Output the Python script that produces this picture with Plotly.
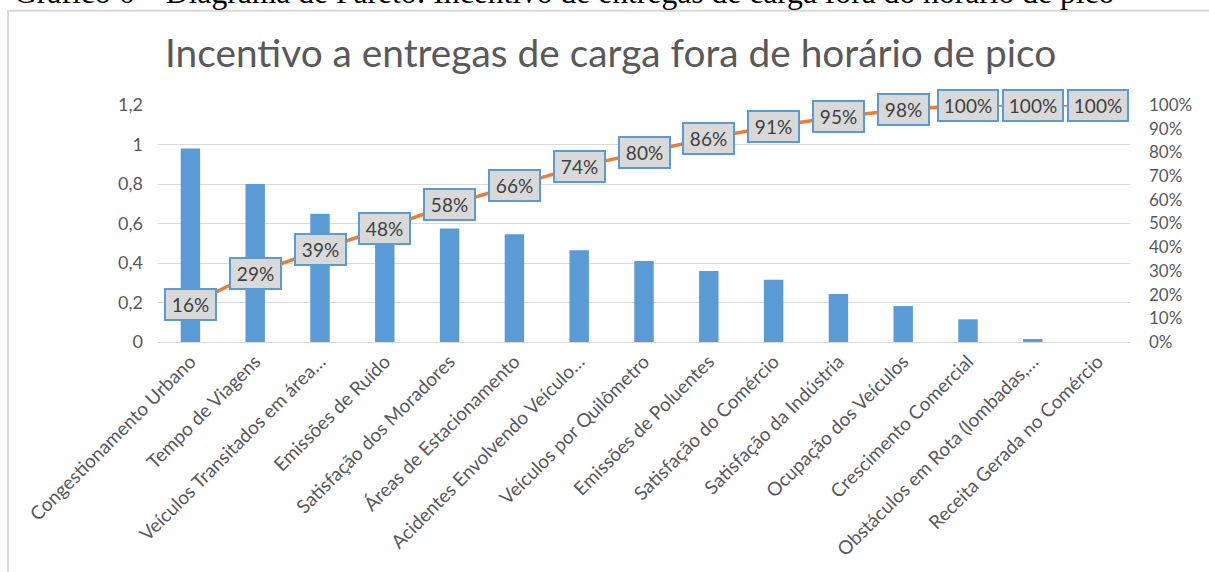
import plotly.graph_objects as go

categories = [
    "Congestionamento Urbano",
    "Tempo de Viagens",
    "Veículos Transitados em área…",
    "Emissões de Ruído",
    "Satisfação dos Moradores",
    "Áreas de Estacionamento",
    "Acidentes Envolvendo Veículo…",
    "Veículos por Quilômetro",
    "Emissões de Poluentes",
    "Satisfação do Comércio",
    "Satisfação da Indústria",
    "Ocupação dos Veículos",
    "Crescimento Comercial",
    "Obstáculos em Rota (lombadas,…",
    "Receita Gerada no Comércio",
]
bar_values = [0.98, 0.80, 0.65, 0.56, 0.575, 0.545, 0.465, 0.41, 0.36, 0.315, 0.243, 0.182, 0.115, 0.015, 0.0]
cum_pct = [16, 29, 39, 48, 58, 66, 74, 80, 86, 91, 95, 98, 100, 100, 100]

left_ticks = [0, 0.2, 0.4, 0.6, 0.8, 1.0, 1.2]
right_ticks = [i / 10 for i in range(11)]

title_text = "Incentivo a entregas de carga fora de horário de pico"
caption_text = "Gráfico 6 – Diagrama de Pareto: Incentivo de entregas de carga fora do horário de pico"

FONT = "Lato"
GRAY = "#595959"
BLUE = "#5B9BD5"
ORANGE = "#ED7D31"

W, H = 1209, 572
L, R, T, B = 158, 79, 105, 228
pw, ph = W - L - R, H - T - B


def px_x(x):
    return (x - L) / pw


def px_y(y):
    return (H - B - y) / ph


fig = go.Figure()
fig.add_trace(go.Bar(
    x=categories, y=bar_values, marker=dict(color=BLUE, line=dict(width=0)),
    yaxis="y", hoverinfo="skip",
))
fig.add_trace(go.Scatter(
    x=categories, y=[p / 100 for p in cum_pct], mode="lines",
    line=dict(color=ORANGE, width=3.5), yaxis="y2", hoverinfo="skip",
))

annotations = []
for c, p in zip(categories, cum_pct):
    label = f"{p}%"
    annotations.append(dict(
        x=c, y=p / 100, xref="x", yref="y2", text=label, showarrow=False,
        font=dict(family=FONT, size=19, color="#404040"),
        bgcolor="#D9D9D9", bordercolor=BLUE, borderwidth=2, borderpad=4,
        width=41 if len(label) == 3 else 50, height=21,
        xanchor="center", yanchor="middle",
    ))

annotations.append(dict(
    x=px_x(610), y=px_y(52), xref="paper", yref="paper", text=title_text,
    showarrow=False, font=dict(family=FONT, size=38.8, color=GRAY),
    xanchor="center", yanchor="middle",
))
annotations.append(dict(
    x=px_x(13), y=px_y(10), xref="paper", yref="paper", text=caption_text,
    showarrow=False, font=dict(family="Liberation Serif", size=31.6, color="#000000"),
    xanchor="left", yanchor="bottom", borderpad=0,
))

fig.update_layout(
    width=W, height=H,
    margin=dict(l=L, r=R, t=T, b=B),
    paper_bgcolor="white", plot_bgcolor="white",
    showlegend=False, bargap=0.7,
    separators=",.",
    annotations=annotations,
    xaxis=dict(
        tickangle=-45, tickfont=dict(family=FONT, size=19, color=GRAY),
        showgrid=False, showline=True, linecolor="#D9D9D9", linewidth=1,
        ticks="", fixedrange=True,
    ),
    yaxis=dict(
        range=[0, 1.2], tickvals=left_ticks, showgrid=True, gridcolor="#D9D9D9",
        gridwidth=1, zeroline=False, showline=False, ticks="",
        tickfont=dict(family=FONT, size=18, color=GRAY), ticklabelstandoff=14,
    ),
    yaxis2=dict(
        range=[0, 1], tickvals=right_ticks, tickformat=".0%", overlaying="y",
        side="right", showgrid=False, zeroline=False, showline=False, ticks="",
        tickfont=dict(family=FONT, size=17, color=GRAY), ticklabelstandoff=18,
    ),
    shapes=[dict(
        type="rect", xref="paper", yref="paper",
        x0=px_x(8), x1=px_x(1230), y0=px_y(600), y1=px_y(10),
        line=dict(color="#D9D9D9", width=2), fillcolor="rgba(0,0,0,0)", layer="below",
    )],
)

fig.write_html(
    "out.html",
    config={"displayModeBar": False},
    post_script="document.body.style.margin='0';document.body.style.overflow='hidden';",
)
